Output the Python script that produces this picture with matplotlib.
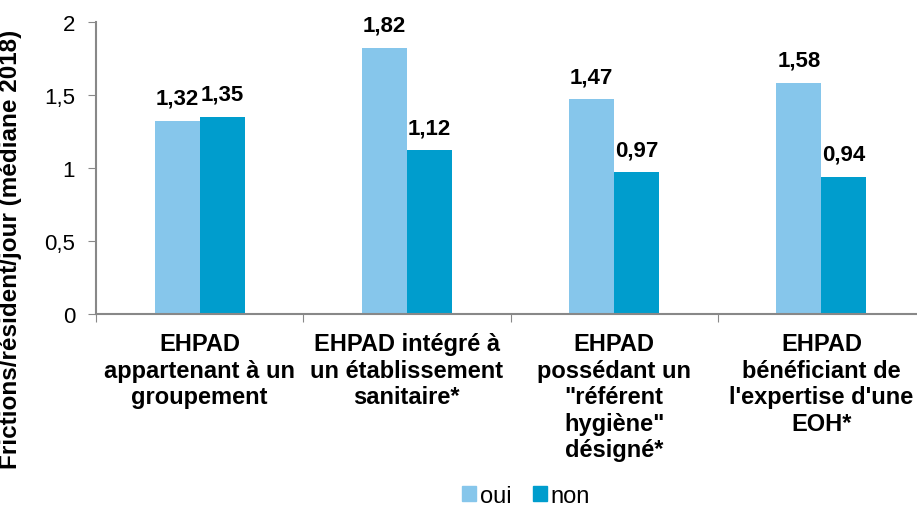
import matplotlib.pyplot as plt
import numpy as np
from matplotlib.patches import Patch

plt.rcParams['font.family'] = ['Liberation Sans', 'DejaVu Sans']

categories = [
    "EHPAD\nappartenant à un\ngroupement",
    "EHPAD intégré à\nun établissement\nsanitaire*",
    "EHPAD\npossédant un\n\"référent\nhygiène\"\ndésigné*",
    "EHPAD\nbénéficiant de\nl'expertise d'une\nEOH*",
]
oui = [1.32, 1.82, 1.47, 1.58]
non = [1.35, 1.12, 0.97, 0.94]
series_names = ["oui", "non"]
colors = ["#86C6EB", "#009DCD"]

fig = plt.figure(figsize=(9.17, 5.10), dpi=100)
ax = fig.add_axes([96 / 917, 195 / 510, 829 / 917, 292 / 510])

x = np.arange(len(categories))
w = 0.217
b1 = ax.bar(x - w / 2, oui, w, color=colors[0])
b2 = ax.bar(x + w / 2, non, w, color=colors[1])


def fmt(v):
    return f"{v:.2f}".replace(".", ",")


for bars, vals in ((b1, oui), (b2, non)):
    for bar, v in zip(bars, vals):
        ax.annotate(fmt(v), (bar.get_x() + bar.get_width() / 2, v),
                    xytext=(0, 12.5), textcoords="offset points",
                    ha="center", va="baseline", fontsize=16, fontweight="bold")

ax.set_xlim(-0.5, 3.5)
ax.set_ylim(0, 2)
ax.set_yticks([0, 0.5, 1, 1.5, 2])
ax.set_yticklabels(["0", "0,5", "1", "1,5", "2"], fontsize=16)

ax.set_xticks(np.arange(-0.5, 4, 1))
ax.set_xticklabels([])
ax.set_xticks(x, minor=True)
ax.set_xticklabels(categories, minor=True, fontsize=17, fontweight="bold",
                   linespacing=1.2)
ax.tick_params(axis="x", which="minor", length=0, pad=13)
ax.tick_params(axis="x", which="major", length=6, color="#888888", direction="out")
ax.tick_params(axis="y", length=6, color="#888888", pad=9)

for s in ("top", "right"):
    ax.spines[s].set_visible(False)
for s in ("left", "bottom"):
    ax.spines[s].set_color("#888888")
    ax.spines[s].set_linewidth(1.5)

ax.set_ylabel("Frictions/résident/jour (médiane 2018)", fontsize=17.5,
              fontweight="bold")
ax.yaxis.set_label_coords(-0.089, 0.225)

handles = [Patch(color=c, label=n) for c, n in zip(colors, series_names)]
fig.legend(handles=handles, loc="center", bbox_to_anchor=(526 / 917, 1 - 497 / 510),
           ncol=2, frameon=False, fontsize=17, handlelength=0.6, handleheight=0.6,
           handletextpad=0.15, columnspacing=0.9)

fig.savefig("out.png", dpi=100)
